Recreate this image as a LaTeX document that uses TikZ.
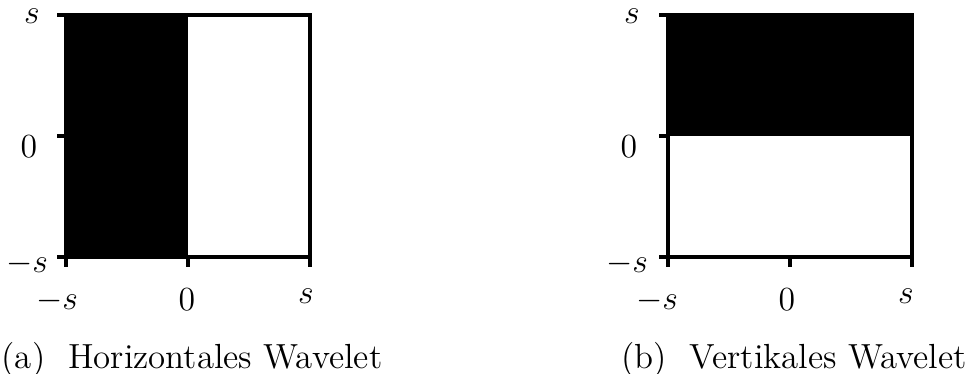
\documentclass[tikz,border=0pt]{standalone}
\usepackage{tikz}
\usetikzlibrary{positioning}

\begin{document}
\begin{tikzpicture}[
  x=0.0125cm,y=-0.0125cm,
  frame/.style={draw=black,line width=1.1pt},
  axtick/.style={draw=black,line width=1.1pt},
  lbl/.style={anchor=base,inner sep=0pt,font=\fontsize{12.4}{14}\selectfont},
  subcap/.style={anchor=base,inner sep=0pt,font=\fontsize{12.4}{14}\selectfont}
]
  \useasboundingbox (0,0) rectangle (968,373);

  % (a) horizontal
  \fill[black] (66,15) rectangle (188,257);
  \draw[frame] (66,15) rectangle (310,257);
  \draw[axtick] (57,15)--(66,15) (57,136)--(66,136) (57,257)--(66,257);
  \draw[axtick] (66,257)--(66,267) (188,257)--(188,267) (310,257)--(310,267);
  \node[lbl] (ya1) at (32,23) {$s$};
  \node[lbl] (ya0) at (29,157) {$0$};
  \node[lbl] (yam) at (27,272) {$-s$};
  \node[lbl] (xam) at (57,309) {$-s$};
  \node[lbl] (xa0) at (187,310) {$0$};
  \node[lbl] (xa1) at (306,303) {$s$};
  \node[subcap] (capa) at (192,368) {(a)\ \ Horizontales Wavelet};

  % (b) vertical
  \begin{scope}[shift={(602,0)}]
    \fill[black] (66,15) rectangle (310,136);
    \draw[frame] (66,15) rectangle (310,257);
    \draw[axtick] (57,15)--(66,15) (57,136)--(66,136) (57,257)--(66,257);
    \draw[axtick] (66,257)--(66,267) (188,257)--(188,267) (310,257)--(310,267);
    \node[lbl] (yb1) at (30,23) {$s$};
    \node[lbl] (yb0) at (27,157) {$0$};
    \node[lbl] (ybm) at (25,272) {$-s$};
    \node[lbl] (xbm) at (55,309) {$-s$};
    \node[lbl] (xb0) at (185,310) {$0$};
    \node[lbl] (xb1) at (304,303) {$s$};
    \node[subcap] (capb) at (192,368) {(b)\ \ Vertikales Wavelet};
  \end{scope}
\end{tikzpicture}
\end{document}
